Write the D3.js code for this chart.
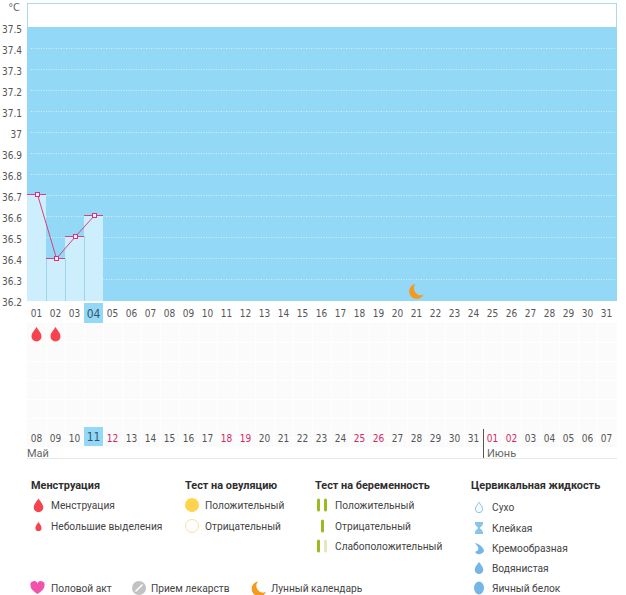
<!DOCTYPE html>
<html><head><meta charset="utf-8">
<script src="https://cdnjs.cloudflare.com/ajax/libs/d3/7.8.5/d3.min.js"></script>
<style>
html,body{margin:0;padding:0;background:#fff}
svg{display:block}
text{font-family:"DejaVu Sans Condensed","DejaVu Sans",sans-serif}
text.lg{font-family:Roboto,sans-serif;font-size:10.2px;fill:#444}
text.lh{font-family:Roboto,sans-serif;font-size:10.9px;font-weight:700;fill:#2e2e2e}
text.mo{font-family:Roboto,sans-serif;font-size:11px;fill:#666}
</style></head><body>
<svg id="c" width="626" height="595"></svg>
<script>
// Basal temperature chart for one cycle
const topDays = ["01","02","03","04","05","06","07","08","09","10","11","12","13","14","15","16","17","18","19","20","21","22","23","24","25","26","27","28","29","30","31"];
const dateLabels = ["08","09","10","11","12","13","14","15","16","17","18","19","20","21","22","23","24","25","26","27","28","29","30","31","01","02","03","04","05","06","07"];
const weekendLabels = [4,10,11,17,18,24,25];
const tempTicks = [36.2,36.3,36.4,36.5,36.6,36.7,36.8,36.9,37,37.1,37.2,37.3,37.4,37.5];
const temps = [36.705,36.4,36.505,36.605];
const menstruationDays = [0,1];
const moonDay = 20;
const currentDay = 3;
const juneStart = 24;

const svg = d3.select("#c");
const x = d3.scaleBand().domain(d3.range(31)).range([27,616]).padding(0);
const y = d3.scaleLinear().domain([36.2,37.5]).range([300.5,27]);
const cx = i => x(i)+x.bandwidth()/2;

const blue = "#93d8f6";
// frame and temperature field
svg.append("rect").attr("x",27.5).attr("y",3.5).attr("width",589).attr("height",297).attr("fill","#fff").attr("stroke","#a9dcea");
svg.append("rect").attr("x",27).attr("y",27).attr("width",590).attr("height",274).attr("fill",blue);

// dotted gridlines
svg.selectAll("line.grid").data(tempTicks.slice(0,-1)).join("line").attr("class","grid")
  .attr("x1",31).attr("x2",616).attr("y1",d=>Math.round(y(d))+.5).attr("y2",d=>Math.round(y(d))+.5)
  .attr("stroke","#fff").attr("stroke-dasharray","1 1.5").attr("opacity",d=>d===36.2?.8:.6);

// bars under the curve
svg.selectAll("rect.bar").data(temps).join("rect").attr("class","bar")
  .attr("x",(d,i)=>x(i)).attr("y",d=>y(d)).attr("width",x.bandwidth()).attr("height",d=>301-y(d))
  .attr("fill","#cdeefd");
svg.selectAll("line.sep").data(temps.slice(1)).join("line").attr("class","sep")
  .attr("x1",(d,i)=>x(i+1)+.5).attr("x2",(d,i)=>x(i+1)+.5)
  .attr("y1",(d,i)=>y(Math.min(d,temps[i]))).attr("y2",301).attr("stroke","#9fd3e8");

// temperature axis labels
svg.selectAll("text.yt").data(tempTicks).join("text").attr("class","yt")
  .attr("x",22).attr("y",d=>y(d)+5.5).attr("text-anchor","end").attr("font-size",10).attr("fill","#555")
  .text(d=>d===37?"37":d.toFixed(1));
svg.append("text").attr("x",20).attr("y",11).attr("text-anchor","end").attr("font-size",11).attr("fill","#666").text("°C");

// curve
const line = d3.line().x((d,i)=>Math.round(cx(i))+.5).y(d=>Math.round(y(d))+.5);
svg.append("path").attr("d",line(temps)).attr("fill","none").attr("stroke","#d9407f").attr("stroke-width",1);
temps.forEach((t,i)=>{
  svg.append("line").attr("x1",x(i)).attr("x2",x(i)+x.bandwidth()).attr("y1",Math.round(y(t))+.5).attr("y2",Math.round(y(t))+.5).attr("stroke","#d9407f");
  svg.append("rect").attr("x",Math.round(cx(i))-1.5).attr("y",Math.round(y(t))-1.5).attr("width",4).attr("height",4).attr("fill","#fdf0f6").attr("stroke","#d4327f");
});

// moon marker
const moon = "M-1,-7 A7.5,7.5 0 1 0 7,3.5 A6.8,6.8 0 0 1 -1,-7 Z";
svg.append("path").attr("d",moon).attr("transform",`translate(${cx(moonDay)},${291})`).attr("fill","#f39a1f");

// symptom grid
const gridTop=323, gridBottom=447;
svg.append("rect").attr("x",27).attr("y",gridTop).attr("width",590).attr("height",gridBottom-gridTop).attr("fill","#fbfbfb");
d3.range(1,31).forEach(i=>svg.append("line").attr("x1",x(i)+.5).attr("x2",x(i)+.5).attr("y1",gridTop).attr("y2",gridBottom).attr("stroke","#fff"));
d3.range(gridTop+19,gridBottom,19).forEach(v=>svg.append("line").attr("x1",27).attr("x2",617).attr("y1",v+.5).attr("y2",v+.5).attr("stroke","#fff"));

// current-day highlights
svg.append("rect").attr("x",x(currentDay)).attr("y",303).attr("width",x.bandwidth()).attr("height",20).attr("fill",blue);
svg.append("rect").attr("x",x(currentDay)).attr("y",427).attr("width",x.bandwidth()).attr("height",19).attr("fill",blue);

// day numbers
svg.selectAll("text.d1").data(topDays).join("text").attr("class","d1")
  .attr("x",(d,i)=>cx(i)).attr("y",(d,i)=>i===currentDay?318:317).attr("text-anchor","middle")
  .attr("font-size",(d,i)=>i===currentDay?12:10).attr("fill",(d,i)=>i===currentDay?"#33566b":"#555").text(d=>d);
svg.selectAll("text.d2").data(dateLabels).join("text").attr("class","d2")
  .attr("x",(d,i)=>cx(i)).attr("y",(d,i)=>i===currentDay?441:442).attr("text-anchor","middle")
  .attr("font-size",(d,i)=>i===currentDay?12:10)
  .attr("fill",(d,i)=>i===currentDay?"#33566b":weekendLabels.includes(i)?"#d4285f":"#555").text(d=>d);

// month row
svg.append("text").attr("class","mo").attr("x",27).attr("y",457).text("Май");
svg.append("text").attr("class","mo").attr("x",x(juneStart)+4).attr("y",457).text("Июнь");
svg.append("line").attr("x1",x(juneStart)+.5).attr("x2",x(juneStart)+.5).attr("y1",429).attr("y2",458).attr("stroke","#555");
svg.append("line").attr("x1",27).attr("x2",617).attr("y1",458.5).attr("y2",458.5).attr("stroke","#e8e8e8");

// icons
const drop = "M0,-8 C1.5,-5 5,-2.5 5,1.5 A5,5 0 0 1 -5,1.5 C-5,-2.5 -1.5,-5 0,-8 Z";
menstruationDays.forEach(i=>svg.append("path").attr("d",drop).attr("transform",`translate(${cx(i)},335)`).attr("fill","#f5434f"));

const icon = {
  drop:(g,s=1,c="#f5434f")=>g.append("path").attr("d",drop).attr("transform",`scale(${s})`).attr("fill",c),
  circle:(g,r,f,st)=>g.append("circle").attr("r",r).attr("fill",f).attr("stroke",st||"none"),
  bar:(g,dx,c)=>g.append("rect").attr("x",dx-1.5).attr("y",-6.5).attr("width",3).attr("height",13).attr("rx",1.5).attr("fill",c)
};
function at(px,py){return svg.append("g").attr("transform",`translate(${px},${py})`);}
function label(px,py,t,cls="lg"){svg.append("text").attr("class",cls).attr("x",px).attr("y",py).text(t);}

// legend: menstruation
label(31,489,"Менструация","lh");
icon.drop(at(38.5,506),.95); label(51,509,"Менструация");
icon.drop(at(38.5,527),.62); label(51,530,"Небольшие выделения");
// legend: ovulation test
label(185,489,"Тест на овуляцию","lh");
icon.circle(at(192,505),7,"#fed44f"); label(205,509,"Положительный");
icon.circle(at(192,526),6.5,"#fff","#fbe199"); label(205,530,"Отрицательный");
// legend: pregnancy test
label(315,489,"Тест на беременность","lh");
let g=at(322,505); icon.bar(g,-3.5,"#9aba22"); icon.bar(g,3.5,"#9aba22"); label(335,509,"Положительный");
g=at(322.5,526); icon.bar(g,0,"#9aba22"); label(335,530,"Отрицательный");
g=at(322,546); icon.bar(g,-3.5,"#9aba22"); icon.bar(g,3.5,"#e3e8bd"); label(335,550,"Слабоположительный");
// legend: cervical fluid
label(471,489,"Цервикальная жидкость","lh");
g=at(479,508); g.append("path").attr("d",drop).attr("transform","scale(.72)").attr("fill","#f2fafe").attr("stroke","#84bde6").attr("stroke-width",1.2);
label(492,511,"Сухо");
at(479,528).append("path").attr("d","M-4,-6 H4 V-4.5 C4,-2 1,-1 1,0 C1,1 4,2 4,4.5 V6 H-4 V4.5 C-4,2 -1,1 -1,0 C-1,-1 -4,-2 -4,-4.5 Z").attr("fill","#88c3ea");
label(492,532,"Клейкая");
at(479,549).append("path").attr("d","M-4,-6 C1,-5 5,-1 5,2 A5,4.6 0 0 1 -4,3 C-1,2 0,0 -1,-2 Z").attr("fill","#75b6e8");
label(492,552,"Кремообразная");
at(479,568.5).append("path").attr("d",drop).attr("transform","scale(.85)").attr("fill","#75b6e8");
label(492,572,"Водянистая");
at(479,588).append("ellipse").attr("rx",5).attr("ry",6.5).attr("fill","#75b6e8");
label(492,592,"Яичный белок");
// legend: extra marks
at(37.5,588).append("path").attr("d","M0,6 C-4,3 -7,1 -7,-2.5 A3.5,3.5 0 0 1 0,-4 A3.5,3.5 0 0 1 7,-2.5 C7,1 4,3 0,6 Z").attr("fill","#f052ac");
label(51,592,"Половой акт");
g=at(139,588); icon.circle(g,7,"#c2c2c2"); g.append("line").attr("x1",-3.5).attr("y1",3.5).attr("x2",3.5).attr("y2",-3.5).attr("stroke","#fff").attr("stroke-width",1.5);
label(151,592,"Прием лекарств");
at(259,588.5).append("path").attr("d",moon).attr("fill","#f39a1f");
label(271,592,"Лунный календарь");
</script>
</body></html>
